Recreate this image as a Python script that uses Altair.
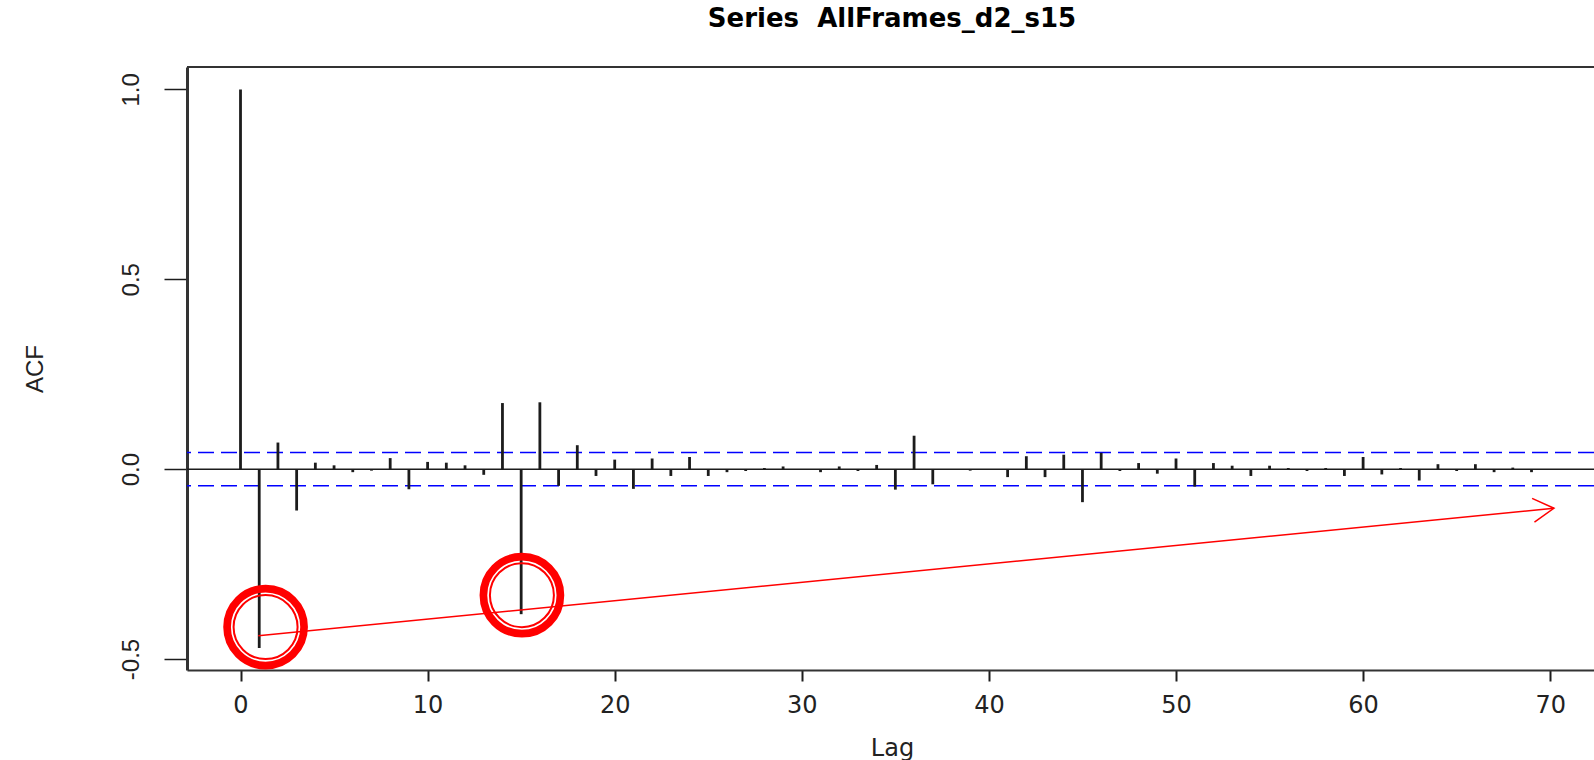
import math

import altair as alt
import pandas as pd

# Sample autocorrelation of the differenced series, lags 0..69
lags = list(range(70))
acf_values = [
    1.000, -0.471, 0.070, -0.109, 0.017, 0.010, -0.008, -0.004, 0.029, -0.053,
    0.019, 0.017, 0.010, -0.015, 0.174, -0.382, 0.176, -0.044, 0.063, -0.018,
    0.025, -0.052, 0.028, -0.018, 0.032, -0.018, -0.008, -0.005, 0.003, 0.007,
    0.000, -0.008, 0.007, -0.005, 0.011, -0.054, 0.088, -0.040, 0.000, -0.004,
    0.000, -0.021, 0.034, -0.021, 0.038, -0.087, 0.043, -0.005, 0.016, -0.012,
    0.028, -0.046, 0.016, 0.009, -0.018, 0.009, 0.003, -0.005, 0.003, -0.018,
    0.032, -0.014, 0.003, -0.030, 0.013, -0.005, 0.013, -0.008, 0.004, -0.008,
]
ci_bound = 0.044  # 95% white-noise band

# Highlighted seasonal spikes (ring centres) and the trend arrow
ring_lag = [1.34, 15.04]
ring_acf = [-0.416, -0.332]
arrow_lag = [0.95, 70.2]
arrow_acf = [-0.439, -0.103]

title_text = "Series\u00a0\u00a0AllFrames_d2_s15"

x_domain = [-2.86, 72.34]
y_domain = [-0.529, 1.059]
x_ticks = [0, 10, 20, 30, 40, 50, 60, 70]
y_ticks = [-0.5, 0.0, 0.5, 1.0]

W, H = 1407, 603
AXIS_GREY = "#333333"
INK = "#1c1c1c"

acf_df = pd.DataFrame({"lag": lags, "acf": acf_values, "base": [0.0] * len(lags)})
band_df = pd.DataFrame({"acf": [ci_bound, -ci_bound]})
zero_df = pd.DataFrame({"acf": [0.0]})
ring_df = pd.DataFrame({"lag": ring_lag, "acf": ring_acf})
arrow_df = pd.DataFrame({"lag": arrow_lag, "acf": arrow_acf})
tip_df = arrow_df.tail(1)
title_df = pd.DataFrame({"label": [title_text]})

# direction of the arrow on screen, for rotating its head
px_x = W / (x_domain[1] - x_domain[0])
px_y = H / (y_domain[1] - y_domain[0])
dx = (arrow_lag[1] - arrow_lag[0]) * px_x
dy = (arrow_acf[1] - arrow_acf[0]) * px_y
head_angle = (-math.degrees(math.atan2(dy, dx))) % 360

x_enc = alt.X(
    "lag:Q",
    scale=alt.Scale(domain=x_domain, nice=False, zero=False),
    axis=alt.Axis(
        values=x_ticks, format="d", title="Lag", grid=False,
        tickSize=11, tickWidth=2, tickColor=INK,
        domainWidth=2, domainColor=AXIS_GREY,
        labelFont="DejaVu Sans", labelFontSize=24, labelColor="#222222",
        labelBaseline="alphabetic", labelPadding=31, labelFlush=False,
        titleFont="DejaVu Sans", titleFontSize=24, titleFontWeight="normal",
        titleColor="#222222", titleBaseline="alphabetic", titleAlign="center",
        titleX=705, titleY=85,
    ),
)
y_enc = alt.Y(
    "acf:Q",
    scale=alt.Scale(domain=y_domain, nice=False, zero=False),
    axis=alt.Axis(
        values=y_ticks, format=".1f", title="ACF", grid=False,
        labelExpr="replace(datum.label, '\u2212', '-')",
        tickSize=23, tickWidth=1.5, tickColor=INK,
        domainWidth=3, domainColor=AXIS_GREY,
        labelFont="Liberation Sans Narrow, Liberation Sans", labelFontSize=24,
        labelColor="#222222", labelAngle=270, labelAlign="center",
        labelBaseline="alphabetic", labelPadding=26, labelOverlap=False,
        titleFont="Liberation Sans Narrow, Liberation Sans", titleFontSize=24,
        titleFontWeight="normal", titleColor="#222222", titleAngle=270,
        titleAlign="center", titleBaseline="alphabetic",
        titleX=-145, titleY=H / 2,
    ),
)

bars = alt.Chart(acf_df).mark_rule(color=INK, strokeWidth=2.8).encode(
    x=x_enc, y=y_enc, y2="base:Q"
)
zero_line = alt.Chart(zero_df).mark_rule(color=INK, strokeWidth=1.5).encode(y=y_enc)
band = alt.Chart(band_df).mark_rule(
    color="#0000ff", strokeWidth=1.5, strokeDash=[16, 7]
).encode(y=y_enc)
top_frame = alt.Chart(zero_df).mark_rule(color=AXIS_GREY, strokeWidth=2).encode(
    y=alt.value(0)
)

# Vega draws a circle symbol with radius sqrt(size) / 2
ring_outer = alt.Chart(ring_df).mark_point(
    shape="circle", filled=False, size=77 ** 2, strokeWidth=7.7, color="#ff0000", opacity=1
).encode(x=x_enc, y=y_enc)
ring_inner = alt.Chart(ring_df).mark_point(
    shape="circle", filled=False, size=64 ** 2, strokeWidth=2, color="#ff0000", opacity=1
).encode(x=x_enc, y=y_enc)

arrow_shaft = alt.Chart(arrow_df).mark_line(color="#ff0000", strokeWidth=1.5).encode(
    x=x_enc, y=y_enc
)
arrow_head = alt.Chart(tip_df).mark_point(
    shape="M-0.866,-0.5L0,0L-0.866,0.5",
    filled=False, size=2304, angle=head_angle,
    strokeWidth=1.5, color="#ff0000", opacity=1,
).encode(x=x_enc, y=y_enc)

# main title, centred over the plot frame
title_mark = alt.Chart(title_df).mark_text(
    font="DejaVu Sans", fontSize=26, fontWeight="bold", color="black",
    align="center", baseline="alphabetic",
).encode(text="label:N", x=alt.value(W / 2 + 1.5), y=alt.value(-40))

chart = (
    alt.layer(
        band, zero_line, bars, top_frame,
        ring_outer, ring_inner, arrow_shaft, arrow_head, title_mark,
    )
    .properties(
        width=W,
        height=H,
        autosize=alt.AutoSizeParams(type="none"),
        padding={"left": 187, "top": 67, "right": 0, "bottom": 90},
        background="white",
    )
    .configure_view(stroke=None)
)

chart.save("out.html", embed_options={"renderer": "svg", "actions": False})
